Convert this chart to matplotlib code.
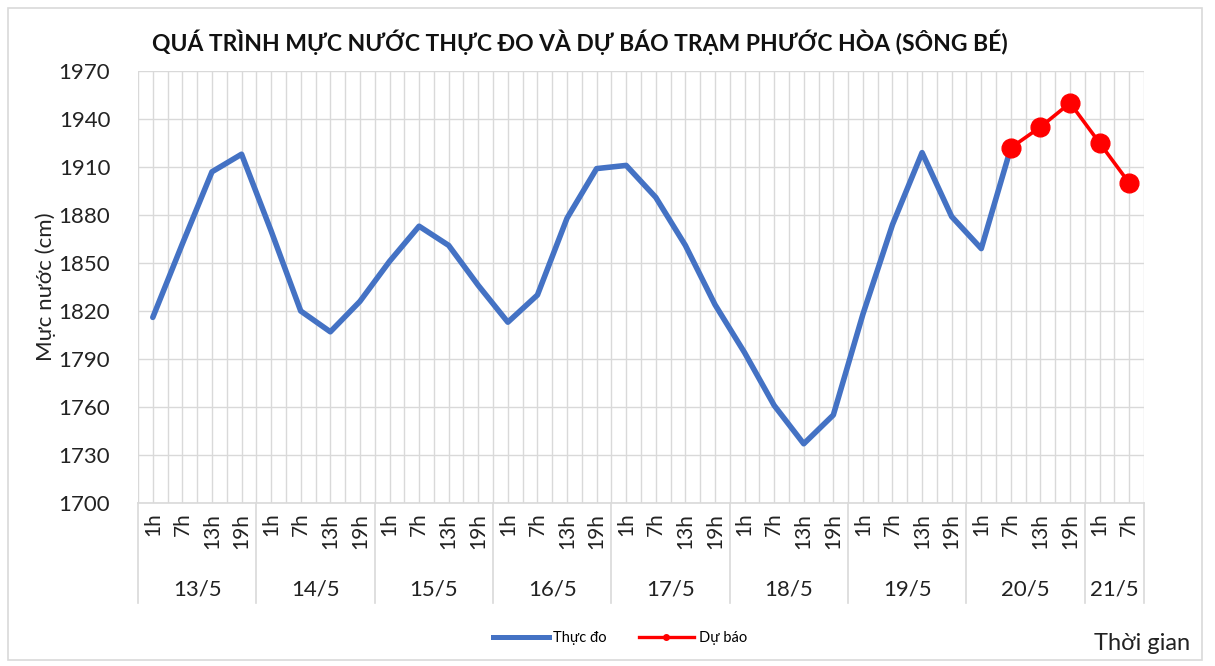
import matplotlib
matplotlib.use("Agg")
import matplotlib.pyplot as plt
from matplotlib.lines import Line2D
from matplotlib.patches import Rectangle
import numpy as np

plt.rcParams['font.family'] = ['Lato', 'DejaVu Sans']

days = ["13/5", "14/5", "15/5", "16/5", "17/5", "18/5", "19/5", "20/5", "21/5"]
hours_per_day = [["1h", "7h", "13h", "19h"]] * 8 + [["1h", "7h"]]
hour_labels = [h for hs in hours_per_day for h in hs]

observed = [1816, 1862, 1907, 1918,
            1870, 1820, 1807, 1826,
            1851, 1873, 1861, 1836,
            1813, 1830, 1878, 1909,
            1911, 1891, 1861, 1824,
            1794, 1761, 1737, 1755,
            1818, 1874, 1919, 1879,
            1859, 1922]
forecast = [1922, 1935, 1950, 1925, 1900]
forecast_start = 29

title = "QUÁ TRÌNH MỰC NƯỚC THỰC ĐO VÀ DỰ BÁO TRẠM PHƯỚC HÒA (SÔNG BÉ)"
ylabel = "Mực nước (cm)"
xlabel = "Thời gian"
series_names = ["Thực đo", "Dự báo"]

W, H = 1215, 666
fig = plt.figure(figsize=(W / 100, H / 100), dpi=100)
fig.patch.set_facecolor("white")
fig.patches.append(Rectangle((8 / W, 6 / H), 1194 / W, 652 / H, transform=fig.transFigure,
                             fill=False, edgecolor="#D9D9D9", linewidth=1.2))

ax = fig.add_axes([138 / W, 1 - 503 / H, (1144 - 138) / W, (503 - 71) / H])
n = len(hour_labels)
x = np.arange(n)

ax.set_xlim(-0.5, n - 0.5)
ax.set_ylim(1700, 1970)
ax.set_yticks(np.arange(1700, 1971, 30))
ax.set_xticks(x)
ax.set_xticks(np.arange(-0.5, n, 1), minor=True)
ax.grid(True, which="both", axis="x", color="#D9D9D9", linewidth=1)
ax.grid(True, which="major", axis="y", color="#D9D9D9", linewidth=1)
ax.set_axisbelow(True)
for s in ["top", "right", "left"]:
    ax.spines[s].set_visible(False)
ax.spines["bottom"].set_color("#D9D9D9")
ax.spines["bottom"].set_linewidth(1.2)
ax.tick_params(axis="both", which="both", length=0)
ax.tick_params(axis="y", labelsize=16, colors="#222222", pad=20)
ax.set_xticklabels(hour_labels, rotation=90, fontsize=15, va="top", ha="center", color="#222222")
ax.tick_params(axis="x", pad=7)

ax.plot(x[:len(observed)], observed, color="#4472C4", linewidth=4, solid_joinstyle="round",
        solid_capstyle="round", zorder=3)
xf = x[forecast_start:forecast_start + len(forecast)]
ax.plot(xf, forecast, color="#FF0000", linewidth=2.6, marker="o", markersize=13.5, zorder=4)

# group labels and separators
trans = ax.get_xaxis_transform()
pos = -0.5
bounds = [pos]
for d, hs in zip(days, hours_per_day):
    start = pos
    pos += len(hs)
    bounds.append(pos)
    ax.text((start + pos) / 2, -(590 - 503) / (503 - 71), d, transform=trans, ha="center",
            va="center", fontsize=16, color="#222222")
sep_bottom = -(603 - 503) / (503 - 71)
for b in bounds:
    ax.add_line(Line2D([b, b], [0, sep_bottom], transform=trans, color="#D9D9D9",
                       linewidth=1.2, clip_on=False))

ax.set_ylabel(ylabel, fontsize=16, color="#222222", va="center")
ax.yaxis.set_label_coords(-(138 - 46) / (1144 - 138), 0.5)

fig.text(580 / W, 1 - 42 / H, title, ha="center", va="center", fontsize=16.5,
         fontweight="bold", color="#111111")
fig.text(1142 / W, 1 - 643 / H, xlabel, ha="center", va="center", fontsize=17, color="#222222")

handles = [Line2D([], [], color="#4472C4", linewidth=3.6),
           Line2D([], [], color="#FF0000", linewidth=2.4, marker="o", markersize=4)]
fig.legend(handles, series_names, loc="center", bbox_to_anchor=(620 / W, 1 - 638 / H),
           ncol=2, frameon=False, fontsize=10.5, handlelength=3.8, handletextpad=0.3,
           columnspacing=2.2)

fig.savefig("out.png", dpi=100, facecolor="white")
